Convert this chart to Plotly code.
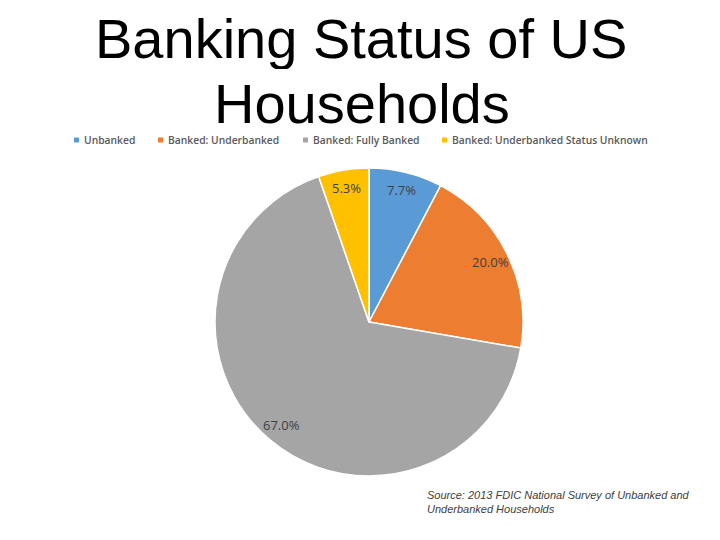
import math
import plotly.graph_objects as go

labels = ["Unbanked", "Banked: Underbanked", "Banked: Fully Banked", "Banked: Underbanked Status Unknown"]
values = [7.7, 20.0, 67.0, 5.3]
colors = ["#5B9BD5", "#ED7D31", "#A5A5A5", "#FFC000"]
title_lines = ["Banking Status of US", "Households"]
source_lines = ["Source: 2013 FDIC National Survey of Unbanked and", "Underbanked Households"]

# page body has an 8px margin; size the figure to the visible area
OFF = 8
W, H = 720 - OFF, 540 - OFF


def X(p):
    return (p - OFF) / W


def Y(p):
    return 1 - (p - OFF) / H


dom_x = [X(215), X(523)]
dom_y = [Y(476), Y(168)]

fig = go.Figure()
fig.add_trace(go.Pie(
    labels=labels,
    values=values,
    marker=dict(colors=colors, line=dict(color="white", width=1.5)),
    sort=False,
    direction="clockwise",
    rotation=0,
    textinfo="none",
    hoverinfo="label+percent",
    domain=dict(x=dom_x, y=dom_y),
    showlegend=False,
))

# data labels computed from values, placed at a fraction of the radius
cx = (dom_x[0] + dom_x[1]) / 2 * W
cy = (1 - (dom_y[0] + dom_y[1]) / 2) * H
r = (dom_x[1] - dom_x[0]) * W / 2
total = sum(values)
cum = 0.0
annotations = []
for v in values:
    mid = (cum + v / 2) / total
    cum += v
    ang = math.radians(90 - 360 * mid)
    px = cx + 0.88 * r * math.cos(ang)
    py = cy - 0.88 * r * math.sin(ang)
    annotations.append(dict(
        x=px / W, y=1 - py / H, xref="paper", yref="paper",
        text=f"{v:.1f}%", showarrow=False,
        font=dict(family="Open Sans", size=13, color="#404040"),
        xanchor="center", yanchor="middle",
    ))

annotations.append(dict(x=X(360.5), y=Y(38.5), xref="paper", yref="paper", text=title_lines[0],
                        showarrow=False, xanchor="center", yanchor="middle", height=61,
                        font=dict(family="Liberation Sans", size=56, color="#000000")))
annotations.append(dict(x=X(361.5), y=Y(103), xref="paper", yref="paper", text=title_lines[1],
                        showarrow=False, xanchor="center", yanchor="middle", height=52,
                        font=dict(family="Liberation Sans", size=56, color="#000000")))
annotations.append(dict(x=X(425), y=Y(487), xref="paper", yref="paper",
                        text="<i>" + "<br>".join(source_lines) + "</i>",
                        showarrow=False, xanchor="left", yanchor="top", align="left",
                        font=dict(family="Liberation Sans", size=11, color="#404040")))

# legend row
legend_sq_x = [74, 158, 303, 442]
shapes = []
for lab, col, sx in zip(labels, colors, legend_sq_x):
    shapes.append(dict(type="rect", xref="paper", yref="paper",
                       x0=X(sx), x1=X(sx + 5), y0=Y(142.5), y1=Y(137.5),
                       fillcolor=col, line=dict(width=0)))
    annotations.append(dict(x=X(sx + 8), y=Y(140), xref="paper", yref="paper", text=lab,
                            showarrow=False, xanchor="left", yanchor="middle",
                            font=dict(family="Open Sans", size=10.3, color="#595959", weight=600)))

fig.update_layout(
    width=W, height=H,
    margin=dict(l=0, r=0, t=0, b=0),
    paper_bgcolor="white",
    plot_bgcolor="white",
    showlegend=False,
    annotations=annotations,
    shapes=shapes,
)

fig.write_html("out.html")
